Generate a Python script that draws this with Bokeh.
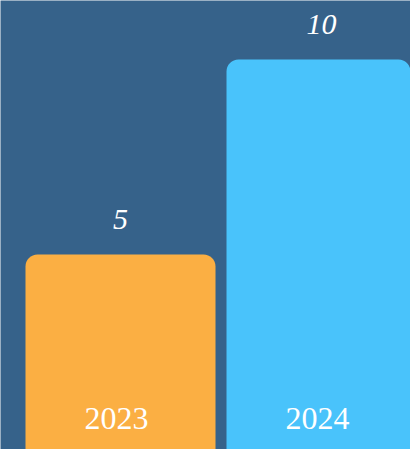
from bokeh.plotting import figure
from bokeh.models import Range1d, ColumnDataSource
from bokeh.core.properties import value
from bokeh.embed import file_html
from bokeh.resources import INLINE

categories = ["2023", "2024"]
values = [5, 10]
colors = ["#FBAF43", "#49C3FB"]

idx = list(range(len(categories)))
src = ColumnDataSource(dict(x=idx, top=values, cat=categories,
                            lbl=[str(v) for v in values], color=colors))

W, H = 410, 449
step = 201.0
x0 = -120.0 / step
p = figure(width=W, height=H, output_backend="svg", toolbar_location=None,
           x_range=Range1d(x0, x0 + W / step), y_range=Range1d(0, H / 39.0),
           min_border=0, background_fill_color="#36628A", border_fill_color="#36628A",
           outline_line_color=None)
p.axis.visible = False
p.grid.visible = False

p.vbar(x="x", top="top", bottom=-1, width=190 / step, source=src, fill_color="color",
       line_color=None, border_radius=(12, 12, 0, 0))

p.text(x="x", y="top", text="lbl", source=src, text_align="center", text_baseline="alphabetic",
       y_offset=-35, text_color="white", text_font=value("Liberation Serif"),
       text_font_style="italic", text_font_size="30px")

p.text(x="x", y=0, text="cat", source=src, text_align="center", text_baseline="alphabetic",
       x_offset=-4, y_offset=-31, text_color="white", text_font=value("Liberation Serif"),
       text_font_size="32px")

open("out.html", "w").write(file_html(p, INLINE))
